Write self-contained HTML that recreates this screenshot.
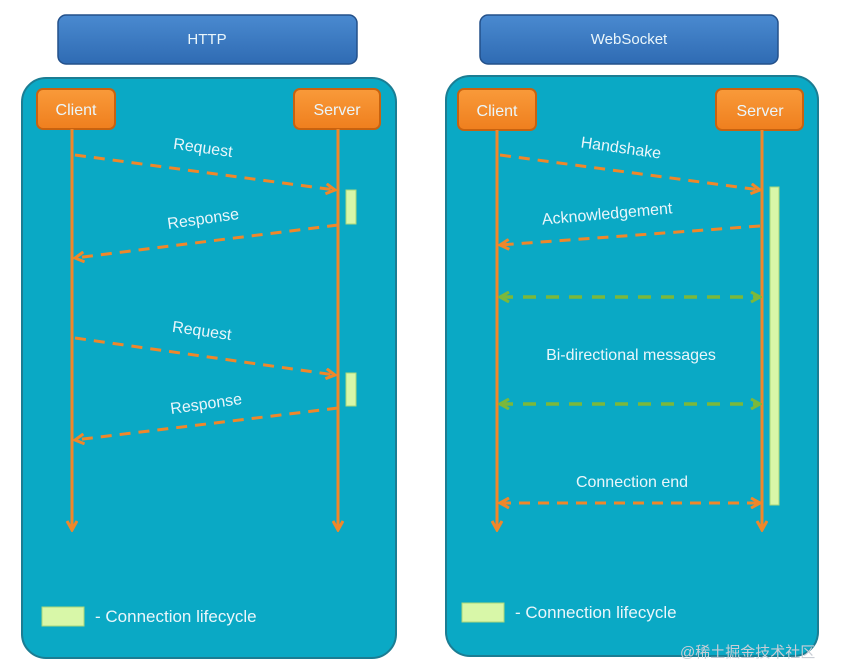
<!DOCTYPE html>
<html><head><meta charset="utf-8"><style>
html,body{margin:0;padding:0;background:#fff;width:846px;height:667px;overflow:hidden}
text{font-family:"Liberation Sans","DejaVu Sans",sans-serif;fill:#eaf6fb}
</style></head><body>
<svg width="846" height="667" viewBox="0 0 846 667" xmlns="http://www.w3.org/2000/svg">
<defs>
<linearGradient id="hb" x1="0" y1="0" x2="0" y2="1"><stop offset="0" stop-color="#4a8ad0"/><stop offset="1" stop-color="#2f6bb3"/></linearGradient>
<linearGradient id="ob" x1="0" y1="0" x2="0" y2="1"><stop offset="0" stop-color="#f99a3a"/><stop offset="1" stop-color="#ef7f1e"/></linearGradient>
<marker id="ao" markerWidth="12" markerHeight="12" refX="10" refY="6" orient="auto" markerUnits="userSpaceOnUse"><path d="M1,1 L10,6 L1,11" fill="none" stroke="#f0872a" stroke-width="3"/></marker>
<marker id="aos" markerWidth="12" markerHeight="12" refX="2" refY="6" orient="auto" markerUnits="userSpaceOnUse"><path d="M11,1 L2,6 L11,11" fill="none" stroke="#f0872a" stroke-width="3"/></marker>
<marker id="ag" markerWidth="12" markerHeight="12" refX="10" refY="6" orient="auto" markerUnits="userSpaceOnUse"><path d="M1,1 L10,6 L1,11" fill="none" stroke="#7cb83a" stroke-width="3"/></marker>
<marker id="ags" markerWidth="12" markerHeight="12" refX="2" refY="6" orient="auto" markerUnits="userSpaceOnUse"><path d="M11,1 L2,6 L11,11" fill="none" stroke="#7cb83a" stroke-width="3"/></marker>
</defs>
<rect width="846" height="667" fill="#fff"/>
<!-- headers -->
<rect x="58" y="15" width="299" height="49" rx="8" fill="url(#hb)" stroke="#23508a" stroke-width="1.5"/>
<text x="207" y="44" font-size="15" text-anchor="middle">HTTP</text>
<rect x="480" y="15" width="298" height="49" rx="8" fill="url(#hb)" stroke="#23508a" stroke-width="1.5"/>
<text x="629" y="44" font-size="15" text-anchor="middle">WebSocket</text>
<!-- panels -->
<rect x="22" y="78" width="374" height="580" rx="24" fill="#0aa9c5" stroke="#1b7d93" stroke-width="2"/>
<rect x="446" y="76" width="372" height="580" rx="24" fill="#0aa9c5" stroke="#1b7d93" stroke-width="2"/>
<!-- boxes -->
<g stroke="#c8620f" stroke-width="2" fill="url(#ob)">
<rect x="37" y="89" width="78" height="40" rx="6"/>
<rect x="294" y="89" width="86" height="40" rx="6"/>
<rect x="458" y="89" width="78" height="41" rx="6"/>
<rect x="716" y="89" width="87" height="41" rx="6"/>
</g>
<g font-size="16" text-anchor="middle">
<text x="76" y="115">Client</text><text x="337" y="115">Server</text>
<text x="497" y="116">Client</text><text x="760" y="116">Server</text>
</g>
<!-- lifelines -->
<g stroke="#f0872a" stroke-width="3" fill="none">
<line x1="72" y1="129" x2="72" y2="530" marker-end="url(#ao)"/>
<line x1="338" y1="129" x2="338" y2="530" marker-end="url(#ao)"/>
<line x1="497" y1="130" x2="497" y2="530" marker-end="url(#ao)"/>
<line x1="762" y1="130" x2="762" y2="530" marker-end="url(#ao)"/>
</g>
<!-- lifecycle bars -->
<g fill="#d8f7a8" stroke="#a9d77a" stroke-width="1">
<rect x="346" y="190" width="10" height="34"/>
<rect x="346" y="373" width="10" height="33"/>
<rect x="770" y="187" width="9" height="318"/>
<rect x="42" y="607" width="42" height="19"/>
<rect x="462" y="603" width="42" height="19"/>
</g>
<!-- dashed arrows -->
<g stroke="#f0872a" stroke-width="3" fill="none" stroke-dasharray="11 8">
<line x1="75" y1="155" x2="335" y2="190" marker-end="url(#ao)"/>
<line x1="338" y1="225" x2="75" y2="258" marker-end="url(#ao)"/>
<line x1="75" y1="338" x2="335" y2="375" marker-end="url(#ao)"/>
<line x1="338" y1="408" x2="75" y2="440" marker-end="url(#ao)"/>
<line x1="500" y1="155" x2="760" y2="190" marker-end="url(#ao)"/>
<line x1="760" y1="226" x2="500" y2="245" marker-end="url(#ao)"/>
<line x1="500" y1="503" x2="760" y2="503" marker-start="url(#aos)" marker-end="url(#ao)"/>
</g>
<g stroke="#7cb83a" stroke-width="3.5" fill="none" stroke-dasharray="13 10">
<line x1="500" y1="297" x2="760" y2="297" marker-start="url(#ags)" marker-end="url(#ag)"/>
<line x1="500" y1="404" x2="760" y2="404" marker-start="url(#ags)" marker-end="url(#ag)"/>
</g>
<!-- labels -->
<g font-size="16" text-anchor="middle">
<text x="203" y="153" transform="rotate(8 203 148)">Request</text>
<text x="203" y="224" transform="rotate(-8 203 218)">Response</text>
<text x="202" y="336" transform="rotate(8 202 330)">Request</text>
<text x="206" y="409" transform="rotate(-8 206 403)">Response</text>
<text x="621" y="153" transform="rotate(8 621 148)">Handshake</text>
<text x="607" y="219" transform="rotate(-5 607 213)">Acknowledgement</text>
<text x="631" y="360">Bi-directional messages</text>
<text x="632" y="487">Connection end</text>
</g>
<text x="95" y="622" font-size="17">- Connection lifecycle</text>
<text x="515" y="618" font-size="17">- Connection lifecycle</text>
<text x="680" y="657" font-size="15" style="fill:#c9ced6;font-family:'Liberation Sans','Noto Sans CJK SC',sans-serif">@稀土掘金技术社区</text>
</svg>
</body></html>
